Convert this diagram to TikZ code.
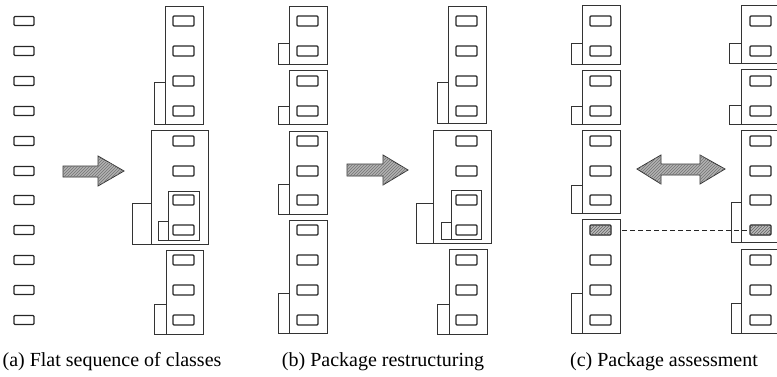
\documentclass[tikz,border=0pt]{standalone}
\usepackage{fontspec}
\setmainfont{Liberation Serif}
\usetikzlibrary{patterns}
\begin{document}
\begin{tikzpicture}[x=1pt,y=-1pt,
  cls/.style={draw=black!85,line width=1.1pt,rounded corners=1pt,minimum width=21pt,minimum height=10pt,inner sep=0pt,outer sep=0pt},
  shaded/.style={cls,fill=gray!55,postaction={pattern=north east lines,pattern color=black!60}},
  pkg/.style={draw=black!80,line width=0.9pt},
  bigarrow/.style={draw=black!80,line width=0.8pt,fill=gray!60,postaction={pattern=north east lines,pattern color=black!55}},
  captext/.style={font=\fontsize{20}{23}\selectfont,inner sep=0pt,anchor=base}]
\useasboundingbox (0,0) rectangle (777,376);
\clip (0,0) rectangle (777,376);
\def\rows{21,51,81,111,141,171,200,230,260,290,320}
% ---------- (a) flat sequence ----------
\foreach \y [count=\i] in \rows { \node[cls,minimum width=20pt,minimum height=9pt] (a\i) at (24,\y) {}; }
% arrow (a)
\filldraw[bigarrow] (63,166) -- (98,166) -- (98,156) -- (124,171) -- (98,186) -- (98,177) -- (63,177) -- cycle;
% (a) right result
\draw[pkg] (165,6) rectangle (203,124);
\draw[pkg] (154,82) rectangle (165,124);
\draw[pkg] (151,130) rectangle (208,244);
\draw[pkg] (132,203) rectangle (151,244);
\draw[pkg] (168,191) rectangle (199,240);
\draw[pkg] (158,221) rectangle (168,240);
\draw[pkg] (166,250) rectangle (203,334);
\draw[pkg] (154,304) rectangle (166,334);
\foreach \y [count=\i] in \rows { \node[cls] (ar\i) at (183.5,\y) {}; }
% ---------- (b) left ----------
\draw[pkg] (289,6) rectangle (327,64);   \draw[pkg] (278,43) rectangle (289,64);
\draw[pkg] (289,70) rectangle (327,124); \draw[pkg] (278,106) rectangle (289,124);
\draw[pkg] (289,131) rectangle (327,214);\draw[pkg] (278,184) rectangle (289,214);
\draw[pkg] (289,220) rectangle (327,333);\draw[pkg] (278,293) rectangle (289,333);
\foreach \y [count=\i] in \rows { \node[cls] (bl\i) at (307.5,\y) {}; }
% arrow (b)
\filldraw[bigarrow] (347,164) -- (383,164) -- (383,155) -- (408,170) -- (383,185) -- (383,176) -- (347,176) -- cycle;
% (b) right
\draw[pkg] (448,6) rectangle (486,123);  \draw[pkg] (437,82) rectangle (448,123);
\draw[pkg] (433,130) rectangle (491,243);\draw[pkg] (416,203) rectangle (433,243);
\draw[pkg] (451,190) rectangle (481,239);\draw[pkg] (441,222) rectangle (451,239);
\draw[pkg] (449,249) rectangle (487,334);\draw[pkg] (437,304) rectangle (449,334);
\foreach \y [count=\i] in \rows { \node[cls] (br\i) at (466.5,\y) {}; }
% ---------- (c) left ----------
\draw[pkg] (582,5) rectangle (620,64);   \draw[pkg] (571,43) rectangle (582,64);
\draw[pkg] (582,70) rectangle (620,124); \draw[pkg] (571,106) rectangle (582,124);
\draw[pkg] (582,130) rectangle (620,213);\draw[pkg] (571,185) rectangle (582,213);
\draw[pkg] (582,219) rectangle (620,333);\draw[pkg] (571,293) rectangle (582,333);
\foreach \y [count=\i] in \rows {
  \ifnum\i=8 \node[shaded] (cl\i) at (600.5,\y) {};
  \else \node[cls] (cl\i) at (600.5,\y) {}; \fi }
% double arrow (c)
\filldraw[bigarrow] (637,169) -- (661,155) -- (661,164) -- (700,164) -- (700,155) -- (725,169) -- (700,184) -- (700,175) -- (661,175) -- (661,184) -- cycle;
% (c) right
\draw[pkg] (741,5) rectangle (779,63);   \draw[pkg] (729,43) rectangle (741,63);
\draw[pkg] (741,69) rectangle (779,124); \draw[pkg] (729,105) rectangle (741,124);
\draw[pkg] (741,130) rectangle (779,242);\draw[pkg] (731,202) rectangle (741,242);
\draw[pkg] (741,249) rectangle (779,333);\draw[pkg] (731,303) rectangle (741,333);
\foreach \y [count=\i] in \rows {
  \ifnum\i=8 \node[shaded] (cr\i) at (760.5,\y) {};
  \else \node[cls] (cr\i) at (760.5,\y) {}; \fi }
% dashed connector
\draw[black!85,line width=0.9pt,dash pattern=on 5pt off 3pt,shorten <=11pt] (cl8.east) -- (cr8.west);
% captions
\node[captext] (capa) at (112,366) {(a) Flat sequence of classes};
\node[captext] (capb) at (383,366) {(b) Package restructuring};
\node[captext] (capc) at (664,366) {(c) Package assessment};
\end{tikzpicture}
\end{document}
